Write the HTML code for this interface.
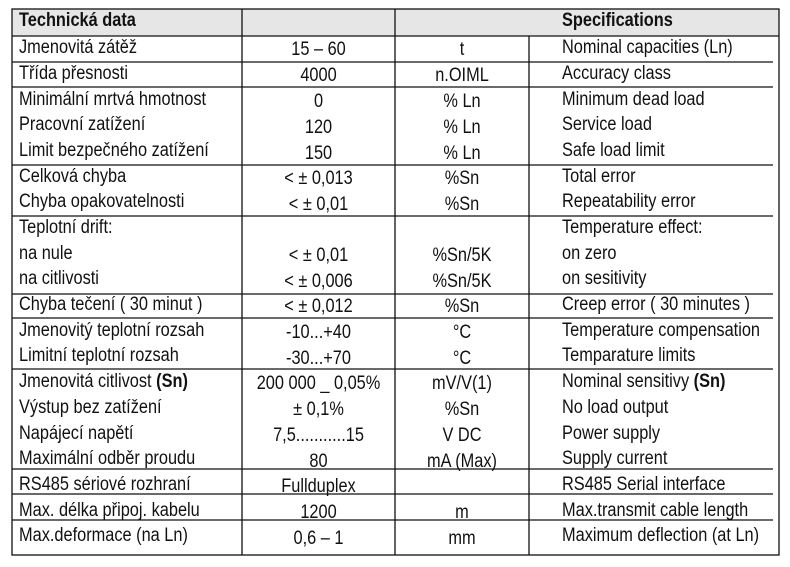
<!DOCTYPE html>
<html><head><meta charset="utf-8"><style>
html,body{margin:0;padding:0;background:#fff;}
#c{position:relative;width:790px;height:567px;overflow:hidden;font-family:"Liberation Sans Narrow","Liberation Sans",sans-serif;font-size:19px;color:#111;}
.t{position:absolute;white-space:nowrap;line-height:20px;height:20px;transform:scaleX(0.86);}
.l{left:19px;transform-origin:left center;}
.s{left:562px;transform-origin:left center;}
.v{left:242px;width:153px;text-align:center;transform-origin:center center;}
.u{left:395px;width:134px;text-align:center;transform-origin:center center;}
b{font-weight:bold;}
svg{position:absolute;left:0;top:0;}
</style></head><body><div id="c">
<svg width="790" height="567">
<rect x="12" y="9" width="767" height="27" fill="#e6e6e6"/>
<g stroke="#111" stroke-width="1.3" fill="none">
<rect x="12" y="9" width="767" height="546"/>
<line x1="242" y1="9" x2="242" y2="555"/>
<line x1="395" y1="9" x2="395" y2="555"/>
<line x1="529" y1="36" x2="529" y2="555"/>
<line x1="12" y1="36" x2="779" y2="36"/>
<line x1="12" y1="62" x2="773" y2="62"/>
<line x1="12" y1="87" x2="773" y2="87"/>
<line x1="12" y1="165" x2="773" y2="165"/>
<line x1="12" y1="216" x2="773" y2="216"/>
<line x1="12" y1="294" x2="773" y2="294"/>
<line x1="12" y1="318" x2="773" y2="318"/>
<line x1="12" y1="369" x2="773" y2="369"/>
<line x1="12" y1="469" x2="773" y2="469"/>
<line x1="12" y1="494" x2="773" y2="494"/>
<line x1="12" y1="520" x2="773" y2="520"/>
</g></svg>
<div class="t l" style="top:11px"><b>Technická data</b></div>
<div class="t s" style="top:11px"><b>Specifications</b></div>

<div class="t l" style="top:38px">Jmenovitá zátěž</div><div class="t v" style="top:40px">15 – 60</div><div class="t u" style="top:40px">t</div><div class="t s" style="top:38px">Nominal capacities (Ln)</div>
<div class="t l" style="top:64px">Třída přesnosti</div><div class="t v" style="top:66px">4000</div><div class="t u" style="top:66px">n.OIML</div><div class="t s" style="top:64px">Accuracy class</div>
<div class="t l" style="top:90px">Minimální mrtvá hmotnost</div><div class="t v" style="top:92px">0</div><div class="t u" style="top:92px">% Ln</div><div class="t s" style="top:90px">Minimum dead load</div>
<div class="t l" style="top:115px">Pracovní zatížení</div><div class="t v" style="top:118px">120</div><div class="t u" style="top:118px">% Ln</div><div class="t s" style="top:115px">Service load</div>
<div class="t l" style="top:141px">Limit bezpečného zatížení</div><div class="t v" style="top:144px">150</div><div class="t u" style="top:144px">% Ln</div><div class="t s" style="top:141px">Safe load limit</div>
<div class="t l" style="top:167px">Celková chyba</div><div class="t v" style="top:169px">&lt; ± 0,013</div><div class="t u" style="top:169px">%Sn</div><div class="t s" style="top:167px">Total error</div>
<div class="t l" style="top:192px">Chyba opakovatelnosti</div><div class="t v" style="top:195px">&lt; ± 0,01</div><div class="t u" style="top:195px">%Sn</div><div class="t s" style="top:192px">Repeatability error</div>
<div class="t l" style="top:218px">Teplotní drift:</div><div class="t s" style="top:218px">Temperature effect:</div>
<div class="t l" style="top:244px">na nule</div><div class="t v" style="top:246px">&lt; ± 0,01</div><div class="t u" style="top:246px">%Sn/5K</div><div class="t s" style="top:244px">on zero</div>
<div class="t l" style="top:269px">na citlivosti</div><div class="t v" style="top:272px">&lt; ± 0,006</div><div class="t u" style="top:272px">%Sn/5K</div><div class="t s" style="top:269px">on sesitivity</div>
<div class="t l" style="top:295px">Chyba tečení ( 30 minut )</div><div class="t v" style="top:297px">&lt; ± 0,012</div><div class="t u" style="top:297px">%Sn</div><div class="t s" style="top:295px">Creep error ( 30 minutes )</div>
<div class="t l" style="top:321px">Jmenovitý teplotní rozsah</div><div class="t v" style="top:323px">-10...+40</div><div class="t u" style="top:323px">°C</div><div class="t s" style="top:321px">Temperature compensation</div>
<div class="t l" style="top:346px">Limitní teplotní rozsah</div><div class="t v" style="top:349px">-30...+70</div><div class="t u" style="top:349px">°C</div><div class="t s" style="top:346px">Temparature limits</div>
<div class="t l" style="top:372px">Jmenovitá citlivost <b>(Sn)</b></div><div class="t v" style="top:374px">200 000 _ 0,05%</div><div class="t u" style="top:374px">mV/V(1)</div><div class="t s" style="top:372px">Nominal sensitivy <b>(Sn)</b></div>
<div class="t l" style="top:398px">Výstup bez zatížení</div><div class="t v" style="top:400px">± 0,1%</div><div class="t u" style="top:400px">%Sn</div><div class="t s" style="top:398px">No load output</div>
<div class="t l" style="top:424px">Napájecí napětí</div><div class="t v" style="top:426px">7,5...........15</div><div class="t u" style="top:426px">V DC</div><div class="t s" style="top:424px">Power supply</div>
<div class="t l" style="top:449px">Maximální odběr proudu</div><div class="t v" style="top:452px">80</div><div class="t u" style="top:452px">mA (Max)</div><div class="t s" style="top:449px">Supply current</div>
<div class="t l" style="top:475px">RS485 sériové rozhraní</div><div class="t v" style="top:477px">Fullduplex</div><div class="t s" style="top:475px">RS485 Serial interface</div>
<div class="t l" style="top:501px">Max. délka připoj. kabelu</div><div class="t v" style="top:503px">1200</div><div class="t u" style="top:503px">m</div><div class="t s" style="top:501px">Max.transmit cable length</div>
<div class="t l" style="top:526px">Max.deformace (na Ln)</div><div class="t v" style="top:529px">0,6 – 1</div><div class="t u" style="top:529px">mm</div><div class="t s" style="top:526px">Maximum deflection (at Ln)</div>
</div></body></html>
